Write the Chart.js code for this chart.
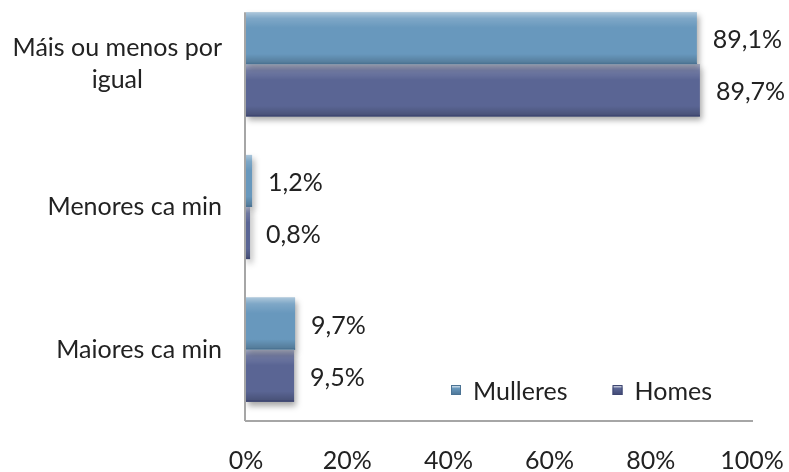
<!DOCTYPE html>
<html>
<head>
<meta charset="utf-8">
<script src="https://cdn.jsdelivr.net/npm/chart.js@4/dist/chart.umd.min.js"></script>
<style>
  html, body { margin: 0; background: #fff; overflow: hidden; }
  #box { width: 789px; height: 472px; position: relative; overflow: hidden; }
  #wrap { width: 789px; height: 479px; position: absolute; left: 0; top: -7px; }
</style>
</head>
<body>
<div id="box"><div id="wrap"><canvas id="chart"></canvas></div></div>
<script>
// ===== data =====
const categories = [["Máis ou menos por", "igual"], "Menores ca min", "Maiores ca min"];
const seriesNames = ["Mulleres", "Homes"];
const mulleres = [89.1, 1.2, 9.7];
const homes = [89.7, 0.8, 9.5];
const xTicks = [0, 20, 40, 60, 80, 100];

const colors = ["#6898bd", "#5a6594"];
const edgeColors = ["#4b7394", "#3f4772"];
const FONT = "Lato, 'Open Sans', sans-serif";
const FONT_SIZE = 25;

const fmt = v => v.toFixed(1).replace(".", ",") + "%";

// draws bevel, value labels, y labels, y axis line, legend
const decor = {
  id: "decor",
  beforeDatasetsDraw(chart) {
    const c = chart.ctx;
    c.save();
    c.shadowColor = "rgba(0,0,0,0.35)";
    c.shadowBlur = 6;
    c.shadowOffsetX = 2;
    c.shadowOffsetY = 4;
  },
  afterDatasetsDraw(chart) {
    const c = chart.ctx;
    c.restore();
    const area = chart.chartArea;

    // bevel overlay + value labels
    chart.data.datasets.forEach((ds, di) => {
      const meta = chart.getDatasetMeta(di);
      meta.data.forEach((bar, i) => {
        const top = bar.y - bar.height / 2;
        const bot = bar.y + bar.height / 2;
        const l = Math.min(bar.base, bar.x), r = Math.max(bar.base, bar.x);
        const g = c.createLinearGradient(0, top, 0, bot);
        g.addColorStop(0, "rgba(255,255,255,0.45)");
        g.addColorStop(0.12, "rgba(255,255,255,0.15)");
        g.addColorStop(0.3, "rgba(255,255,255,0)");
        g.addColorStop(0.8, "rgba(0,0,0,0)");
        g.addColorStop(1, "rgba(0,0,0,0.22)");
        c.fillStyle = g;
        c.fillRect(l, top, r - l, bot - top);
        c.fillStyle = edgeColors[di];
        c.fillRect(l, bot - 1.5, r - l, 1.5);

        c.font = FONT_SIZE + "px " + FONT;
        c.fillStyle = "#222";
        c.textAlign = "left";
        c.textBaseline = "middle";
        c.fillText(fmt(ds.data[i]), r + 16, bar.y + 2);
      });
    });

    // y axis line from first bar top down
    const first = chart.getDatasetMeta(0).data[0];
    const xs = chart.scales.x.getPixelForValue(0);
    c.strokeStyle = "#a6a6a6";
    c.lineWidth = 2;
    c.beginPath();
    c.moveTo(xs - 1, first.y - first.height / 2);
    c.lineTo(xs - 1, area.bottom);
    c.stroke();
  },
  afterDraw(chart) {
    const c = chart.ctx;
    const y = chart.scales.y;
    const area = chart.chartArea;
    c.save();
    c.font = FONT_SIZE + "px " + FONT;
    c.fillStyle = "#222";
    c.textBaseline = "middle";
    c.textAlign = "center";
    const lineH = 32;
    const right = area.left - 24;
    chart.data.labels.forEach((lab, i) => {
      const lines = Array.isArray(lab) ? lab : [lab];
      const w = Math.max(...lines.map(s => c.measureText(s).width));
      const cy = y.getPixelForValue(i);
      lines.forEach((s, k) => {
        c.fillText(s, right - w / 2, cy + (k - (lines.length - 1) / 2) * lineH);
      });
    });

    // legend
    let lx = area.right - 301;
    const ly = area.bottom - 31;
    c.textAlign = "left";
    chart.data.datasets.forEach((ds, di) => {
      const g = c.createLinearGradient(0, ly - 5, 0, ly + 5);
      g.addColorStop(0, "#ffffff");
      g.addColorStop(0.35, colors[di]);
      g.addColorStop(1, edgeColors[di]);
      c.fillStyle = g;
      c.fillRect(lx, ly - 5, 10, 10);
      c.strokeStyle = edgeColors[di];
      c.lineWidth = 1;
      c.strokeRect(lx + 0.5, ly - 4.5, 9, 9);
      c.fillStyle = "#222";
      c.fillText(ds.label, lx + 22, ly + 2);
      lx += 22 + c.measureText(ds.label).width + 45;
    });
    c.restore();
  }
};

new Chart(document.getElementById("chart"), {
  type: "bar",
  data: {
    labels: categories,
    datasets: [
      { label: seriesNames[0], data: mulleres, backgroundColor: colors[0] },
      { label: seriesNames[1], data: homes, backgroundColor: colors[1] }
    ]
  },
  options: {
    indexAxis: "y",
    animation: false,
    responsive: true,
    maintainAspectRatio: false,
    layout: { padding: { top: 0, right: 37, left: 0, bottom: 0 } },
    datasets: { bar: { categoryPercentage: 0.73, barPercentage: 1.0 } },
    scales: {
      x: {
        min: 0,
        max: 100,
        afterBuildTicks: s => { s.ticks = xTicks.map(v => ({ value: v })); },
        afterFit: s => { s.height = 51; s.paddingRight = 0; s.paddingLeft = 0; },
        grid: { display: false },
        border: { display: true, color: "#a6a6a6", width: 2 },
        ticks: {
          padding: 17,
          color: "#222",
          font: { family: FONT, size: FONT_SIZE },
          callback: v => v + "%"
        }
      },
      y: {
        grid: { display: false },
        border: { display: false },
        ticks: { display: false },
        afterFit: s => { s.width = 246; }
      }
    },
    plugins: {
      legend: { display: false },
      tooltip: { enabled: false }
    }
  },
  plugins: [decor]
});
</script>
</body>
</html>
